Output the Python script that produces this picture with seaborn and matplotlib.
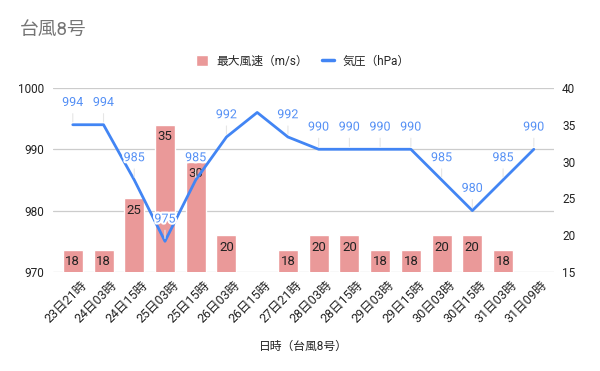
""" Typhoon No.8: max wind speed and pressure """

import matplotlib
matplotlib.use("Agg")
import matplotlib.pyplot as plt
import matplotlib.patheffects as pe
import matplotlib.transforms as mtransforms
from matplotlib.lines import Line2D
from matplotlib.patches import Patch
import seaborn as sns
import pandas as pd
import numpy as np

# Data
times = ["23日21時", "24日03時", "24日15時", "25日03時", "25日15時", "26日03時",
         "26日15時", "27日21時", "28日03時", "28日15時", "29日03時", "29日15時",
         "30日03時", "30日15時", "31日03時", "31日09時"]
wind = [18, 18, 25, 35, 30, 20, np.nan, 18, 20, 20, 18, 18, 20, 20, 18, np.nan]
pressure = [994, 994, 985, 975, 985, 992, 996, 992, 990, 990, 990, 990, 985, 980, 985, 990]
# the chart leaves out the label at 26日15時
pressure_labels = ["994", "994", "985", "975", "985", "992", "", "992",
                   "990", "990", "990", "990", "985", "980", "985", "990"]

bar_color = "#ea9999"
line_color = "#4285f4"

sns.set_theme(style="white")
plt.rcParams["font.family"] = ["Roboto", "Noto Sans CJK JP"]

df = pd.DataFrame({"日時": times, "最大風速": wind, "気圧": pressure})
df["pos"] = np.arange(len(df))

fig = plt.figure(figsize=(6, 3.71), dpi=100)
ax = fig.add_axes([0.088, 0.267, 0.835, 0.496])   # pressure axis + grid
ax2 = ax.twinx()                                  # wind bars (right axis)
ax3 = ax.twinx()                                  # pressure line on top
ax.set_zorder(0)
ax2.set_zorder(1)
ax3.set_zorder(2)
ax2.patch.set_visible(False)
ax3.patch.set_visible(False)

# Bars
sns.barplot(data=df, x="日時", y="最大風速", order=times, color=bar_color,
            saturation=1, width=0.65, ax=ax2)
for i, v in enumerate(wind):
    if np.isnan(v):
        continue
    ax2.annotate(f"{v:.0f}", (i, v), xytext=(0, -4), textcoords="offset points",
                 ha="center", va="top", fontsize=9.5, color="#222222")
ax2.set_ylim(15, 40)
ax2.set_yticks([15, 20, 25, 30, 35, 40])
ax2.set_ylabel("")
ax2.xaxis.grid(False)
ax2.yaxis.grid(False)

# Line
sns.lineplot(data=df, x="pos", y="気圧", color=line_color, lw=2, ax=ax3)
ax3.set_ylim(970, 1000)
for i, (p, lab) in enumerate(zip(pressure, pressure_labels)):
    if not lab:
        continue
    ax3.annotate(lab, (i, p), xytext=(0, 16), textcoords="offset points",
                 ha="center", va="center", fontsize=9, color="#5590f5",
                 path_effects=[pe.withStroke(linewidth=3, foreground="white")],
                 arrowprops=dict(arrowstyle="-", color="#e6e6e6", lw=0.8,
                                 shrinkA=1, shrinkB=2))
ax3.set_axis_off()

# Left axis / grid
ax.set_ylim(970, 1000)
ax.set_yticks([970, 980, 990, 1000])
ax.xaxis.grid(False)
ax.yaxis.grid(True, color="#cccccc", lw=0.9)
ax.set_xlim(-0.65, len(times) - 0.35)
ax.set_xticks(np.arange(len(times)))
ax.set_xticklabels(times, rotation=45, ha="right", va="top", rotation_mode="anchor")
ax.set_xlabel("日時（台風8号）", fontsize=8.5, color="#222222", labelpad=10)
ax.set_ylabel("")

for a in (ax, ax2):
    for s in a.spines.values():
        s.set_visible(False)
    a.tick_params(length=0, labelsize=8.5, colors="#222222", pad=6)
ax.tick_params(axis="x", labelsize=9, pad=5)
shift = mtransforms.ScaledTranslation(7 / 100, 0, fig.dpi_scale_trans)
for lbl in ax.get_xticklabels():
    lbl.set_transform(lbl.get_transform() + shift)

fig.text(20 / 600, 1 - 30 / 371, "台風8号", fontsize=13.5, color="#757575", va="center")

handles = [Patch(facecolor=bar_color, label="最大風速（m/s）"),
           Line2D([], [], color=line_color, lw=2.5, label="気圧（hPa）")]
fig.legend(handles=handles, loc="center", bbox_to_anchor=(0.505, 1 - 61 / 371), ncol=2,
           frameon=False, fontsize=8.5, handlelength=1.0, handleheight=1.0,
           handletextpad=0.7, columnspacing=1.2)

fig.savefig("out.png", dpi=100)
